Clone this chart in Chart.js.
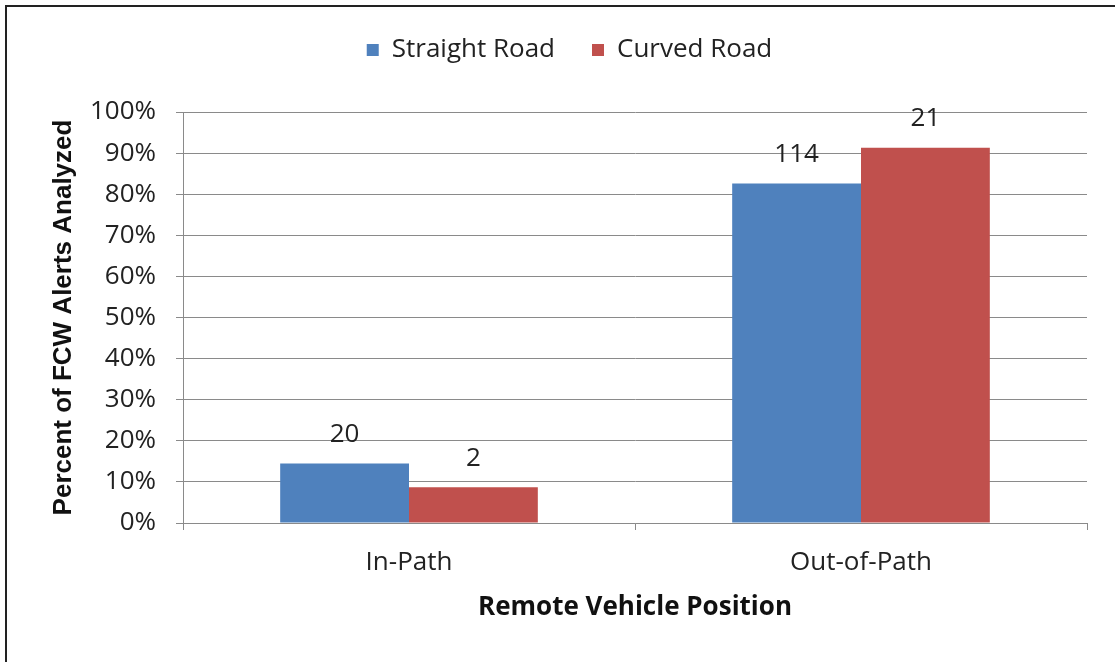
<!DOCTYPE html>
<html>
<head>
<meta charset="utf-8">
<script src="https://cdn.jsdelivr.net/npm/chart.js@4"></script>
<style>
  html, body { margin: 0; padding: 0; background: #fff; }
  #wrap { position: relative; width: 1115px; height: 662px; overflow: hidden; }
  #frame { position: absolute; left: 5px; top: 5px; width: 1200px; height: 800px;
           border-left: 2px solid #222; border-top: 2px solid #222; }
  canvas { position: absolute; left: 0; top: 0; }
</style>
</head>
<body>
<div id="wrap">
  <div id="frame"></div>
  <canvas id="chart" width="1115" height="662"></canvas>
</div>
<script>
const categories = ["In-Path", "Out-of-Path"];
const straightPct = [14.5, 82.6];
const curvedPct = [8.7, 91.3];
const straightCounts = ["20", "114"];
const curvedCounts = ["2", "21"];
const yTicks = [0, 10, 20, 30, 40, 50, 60, 70, 80, 90, 100];

const FONT = "'Open Sans', sans-serif";
const GRID = "#8a8a8a";

// draws the count above each bar
const countLabels = {
  id: "countLabels",
  afterDatasetsDraw(chart) {
    const ctx = chart.ctx;
    const texts = [straightCounts, curvedCounts];
    ctx.save();
    ctx.font = "26px " + FONT;
    ctx.fillStyle = "#222";
    ctx.textAlign = "center";
    ctx.textBaseline = "bottom";
    chart.data.datasets.forEach((ds, i) => {
      chart.getDatasetMeta(i).data.forEach((bar, j) => {
        ctx.fillText(texts[i][j], bar.x, bar.y - 16);
      });
    });
    ctx.restore();
  }
};

// fix the legend height so the plot starts where it should,
// and nudge it right (it is centred on the whole frame in the original)
const legendTweak = {
  id: "legendTweak",
  beforeInit(chart) {
    const lg = chart.legend;
    const fit = lg.fit;
    const draw = lg.draw;
    lg.fit = function () {
      fit.bind(lg)();
      this.height = 112;
    };
    lg.draw = function () {
      const ctx = chart.ctx;
      ctx.save();
      ctx.translate(26, 0);
      draw.bind(lg)();
      ctx.restore();
    };
  }
};

new Chart(document.getElementById("chart"), {
  type: "bar",
  data: {
    labels: categories,
    datasets: [
      { label: "Straight Road", data: straightPct, backgroundColor: "#4F81BD",
        categoryPercentage: 0.57, barPercentage: 1.0 },
      { label: "Curved Road", data: curvedPct, backgroundColor: "#C0504D",
        categoryPercentage: 0.57, barPercentage: 1.0 }
    ]
  },
  options: {
    responsive: false,
    animation: false,
    layout: { padding: { left: 0, right: 28, top: 0, bottom: 0 } },
    plugins: {
      legend: {
        position: "top",
        labels: {
          boxWidth: 12, boxHeight: 12, padding: 37,
          color: "#222", font: { family: FONT, size: 26 }
        }
      },
      tooltip: { enabled: false }
    },
    scales: {
      x: {
        afterFit(scale) { scale.height = 139; },
        grid: { offset: true, drawOnChartArea: false, drawTicks: true, tickLength: 7, color: GRID },
        border: { display: true, color: GRID },
        ticks: { color: "#222", padding: 17, font: { family: FONT, size: 26 } },
        title: {
          display: true, text: "Remote Vehicle Position", color: "#111",
          font: { family: FONT, size: 26, weight: "bold" },
          padding: { top: 39, bottom: 39 }
        }
      },
      y: {
        min: 0, max: 100,
        afterFit(scale) { scale.width = 183; },
        afterBuildTicks(scale) { scale.ticks = yTicks.map(v => ({ value: v })); },
        grid: { drawTicks: true, tickLength: 7, color: GRID },
        border: { display: true, color: GRID },
        ticks: {
          color: "#222", padding: 20, font: { family: FONT, size: 26 },
          callback: v => v + "%"
        },
        title: {
          display: true, text: "Percent of FCW Alerts Analyzed", color: "#111",
          font: { family: "'Liberation Sans', Arial, sans-serif", size: 26, weight: "bold" },
          padding: { top: 48, bottom: 48 }
        }
      }
    }
  },
  plugins: [countLabels, legendTweak]
});
</script>
</body>
</html>
